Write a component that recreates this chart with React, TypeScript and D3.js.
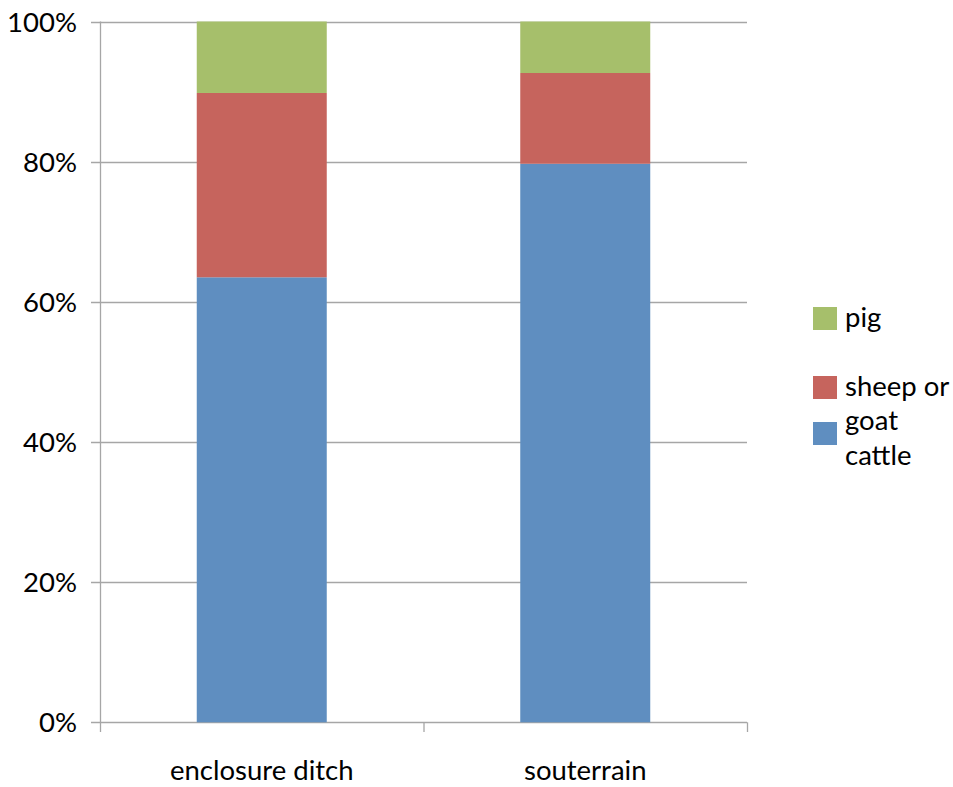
import React from "react";
import * as d3 from "d3";

const categories = ["enclosure ditch", "souterrain"];
const seriesNames = ["cattle", "sheep or goat", "pig"];
const cattle = [63.5, 79.7];
const sheepOrGoat = [26.3, 12.95];
const pig = [10.2, 7.35];
const yTicks = [0, 20, 40, 60, 80, 100];
const colors = ["#5F8EC0", "#C6645D", "#A6BF6B"];

const W = 953;
const H = 787;
const left = 100;
const right = 747;
const top = 21.5;
const bottom = 722.3;
const FONT = "Lato, 'Open Sans', sans-serif";
const FS = 27.5;

export default function App() {
  const y = d3.scaleLinear().domain([0, 100]).range([bottom, top]);
  const rows = categories.map((c, i) => ({ cat: c, cattle: cattle[i], sheep: sheepOrGoat[i], pig: pig[i] }));
  const stack = d3.stack<any>().keys(["cattle", "sheep", "pig"]);
  const stacked = stack(rows);
  const band = (right - left) / categories.length;
  const barW = 130;

  const legend = [
    { name: "pig", color: colors[2], sq: 307, lines: ["pig"], base: 327 },
    { name: "sheep or goat", color: colors[1], sq: 376, lines: ["sheep or", "goat"], base: 396 },
    { name: "cattle", color: colors[0], sq: 422, lines: ["cattle"], base: 465 },
  ];

  return (
    <svg width={W} height={H} style={{ position: "absolute", left: 0, top: 0, background: "#fff" }} fontFamily={FONT}>
      {yTicks.map((t) => (
        <line key={"g" + t} x1={91} x2={right} y1={Math.round(y(t)) + 0.5} y2={Math.round(y(t)) + 0.5} stroke="#A6A6A6" strokeWidth={1.3} />
      ))}
      <line x1={left + 0.5} x2={left + 0.5} y1={top} y2={bottom} stroke="#A6A6A6" strokeWidth={1.3} />
      {[0, 1, 2].map((i) => (
        <line key={"t" + i} x1={left + i * band + 0.5} x2={left + i * band + 0.5} y1={bottom} y2={732} stroke="#A6A6A6" strokeWidth={1.3} />
      ))}
      {stacked.map((s, si) =>
        s.map((d, i) => {
          const cx = left + band * (i + 0.5);
          return (
            <rect key={si + "-" + i} x={cx - barW / 2} width={barW} y={y(d[1])} height={y(d[0]) - y(d[1])} fill={colors[si]} />
          );
        })
      )}
      {yTicks.map((t) => (
        <text key={"l" + t} x={77} y={y(t) + 10} textAnchor="end" fontSize={FS} fill="#000">
          {t + "%"}
        </text>
      ))}
      {categories.map((c, i) => (
        <text key={c} x={left + band * (i + 0.5)} y={780} textAnchor="middle" fontSize={FS} fill="#000">
          {c}
        </text>
      ))}
      {legend.map((l) => (
        <g key={l.name}>
          <rect x={813} y={l.sq} width={24} height={23} fill={l.color} />
          {l.lines.map((ln, k) => (
            <text key={k} x={845} y={l.base + k * 34} fontSize={FS} fill="#000">
              {ln}
            </text>
          ))}
        </g>
      ))}
    </svg>
  );
}
